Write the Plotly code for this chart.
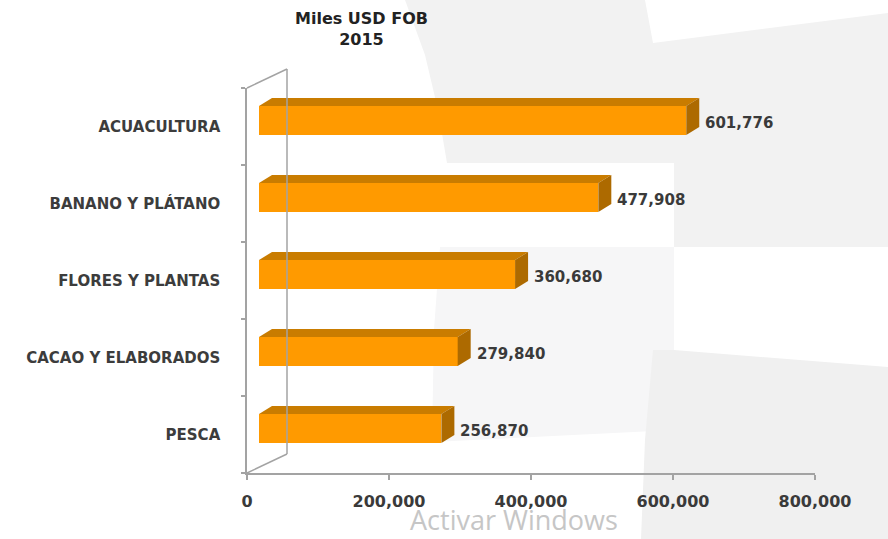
import plotly.graph_objects as go

# Export values in thousands of USD FOB, 2015 (bottom to top)
categories = ["PESCA", "CACAO Y ELABORADOS", "FLORES Y PLANTAS", "BANANO Y PLÁTANO", "ACUACULTURA"]
values = [256870, 279840, 360680, 477908, 601776]
x_ticks = [0, 200000, 400000, 600000, 800000]
title_lines = ["Miles USD FOB", "2015"]

# Axis geometry (plot area 568 x 385 px)
X_MAX = 800000
N = len(categories)
PX_X = X_MAX / 568.0      # data units per pixel, horizontal
PX_Y = N / 385.0          # data units per pixel, vertical

# Pseudo-3D projection offsets
BAR_X0 = 12 * PX_X        # bar front face shifted into the wall depth
BAR_LIFT = 6 * PX_Y
BAR_HALF = 14.5 * PX_Y
DEPTH_X = 13 * PX_X       # bar depth
DEPTH_Y = 8 * PX_Y
WALL_DX = 40 / 568.0      # wall depth (paper units)
WALL_DY = 19 / 385.0

FRONT = "#FF9A00"
TOP = "#C97C00"
SIDE = "#AD6A00"
AXIS = "#A3A3A3"
TEXT = "#3A3A3A"
FONT = "DejaVu Sans"

fig = go.Figure()

centers = [i + 0.5 + BAR_LIFT for i in range(N)]

# front faces
fig.add_trace(go.Bar(
    y=centers, x=values, base=[BAR_X0] * N, orientation="h",
    width=2 * BAR_HALF, marker=dict(color=FRONT, line=dict(width=0)),
    hoverinfo="skip", showlegend=False,
))

# top and side faces
for c, v in zip(centers, values):
    x1 = BAR_X0 + v
    yt, yb = c + BAR_HALF, c - BAR_HALF
    fig.add_trace(go.Scatter(
        x=[BAR_X0, x1, x1 + DEPTH_X, BAR_X0 + DEPTH_X, BAR_X0],
        y=[yt, yt, yt + DEPTH_Y, yt + DEPTH_Y, yt],
        fill="toself", fillcolor=TOP, mode="lines", line=dict(width=0),
        hoverinfo="skip", showlegend=False,
    ))
    fig.add_trace(go.Scatter(
        x=[x1, x1, x1 + DEPTH_X, x1 + DEPTH_X, x1],
        y=[yb, yt, yt + DEPTH_Y, yb + DEPTH_Y, yb],
        fill="toself", fillcolor=SIDE, mode="lines", line=dict(width=0),
        hoverinfo="skip", showlegend=False,
    ))
    fig.add_annotation(
        x=x1 + DEPTH_X, y=c - 0.03, text=f"{v:,}", showarrow=False,
        xanchor="left", yanchor="middle", xshift=4,
        font=dict(family=FONT, size=15, color=TEXT, weight="bold"),
    )

# soft background panels (given in page pixels)
def px_path(points):
    pts = [((px - 247) / 568.0, (473 - py) / 385.0) for px, py in points]
    return "M " + " L ".join(f"{a:.4f},{b:.4f}" for a, b in pts) + " Z"

panels = [
    ([(405, 0), (645, 0), (653, 43), (888, 13), (888, 247), (674, 247), (674, 163),
      (447, 163), (438, 110), (425, 55)], "#F2F2F2"),
    ([(440, 247), (674, 247), (674, 430), (432, 442), (434, 330)], "#F6F6F7"),
    ([(674, 350), (888, 367), (888, 539), (641, 539), (645, 440), (653, 350)], "#F0F0F0"),
]
shapes = [dict(type="path", xref="paper", yref="paper", path=px_path(p),
               fillcolor=col, line=dict(width=0), layer="below") for p, col in panels]

# back wall frame
line = dict(color=AXIS, width=1.5)
shapes += [
    dict(type="line", xref="paper", yref="paper", x0=WALL_DX, y0=WALL_DY, x1=WALL_DX, y1=1 + WALL_DY, line=line),
    dict(type="line", xref="paper", yref="paper", x0=0, y0=1, x1=WALL_DX, y1=1 + WALL_DY, line=line),
    dict(type="line", xref="paper", yref="paper", x0=0, y0=0, x1=WALL_DX, y1=WALL_DY, line=line),
]

fig.add_annotation(
    xref="paper", yref="paper", x=(361 - 247) / 568.0, y=(473 - 29) / 385.0,
    xanchor="center", yanchor="middle",
    text="<br>".join(f"<b>{t}</b>" for t in title_lines), showarrow=False,
    font=dict(family=FONT, size=16, color="#222222"), align="center",
)
fig.add_annotation(
    xref="paper", yref="paper", x=(409 - 247) / 568.0, y=(473 - 539) / 385.0,
    xanchor="left", yanchor="bottom", borderpad=0,
    text="Activar Windows", showarrow=False,
    font=dict(family="Open Sans", size=27, color="#C6C6C6"),
)

fig.update_layout(
    width=888, height=539,
    margin=dict(l=247, r=73, t=88, b=66),
    paper_bgcolor="white", plot_bgcolor="rgba(0,0,0,0)",
    bargap=0, shapes=shapes,
    xaxis=dict(
        range=[0, X_MAX], tickvals=x_ticks, tickformat=",",
        showgrid=False, zeroline=False, showline=True, linecolor=AXIS, linewidth=2,
        ticks="outside", ticklen=5, tickcolor=AXIS, tickwidth=1.5, ticklabelstandoff=8,
        tickfont=dict(family=FONT, size=16, color=TEXT, weight="bold"),
    ),
    yaxis=dict(
        range=[0, N], tickvals=[i + 0.5 for i in range(N)], ticktext=categories,
        showgrid=False, zeroline=False, showline=True, linecolor=AXIS, linewidth=1.5,
        ticks="", ticklabelstandoff=22,
        minor=dict(tick0=0, dtick=1, ticks="outside", ticklen=4, tickcolor=AXIS, tickwidth=1.5),
        tickfont=dict(family=FONT, size=15, color="#3C3C3C", weight="bold"),
    ),
)

fig.write_html("out.html")
